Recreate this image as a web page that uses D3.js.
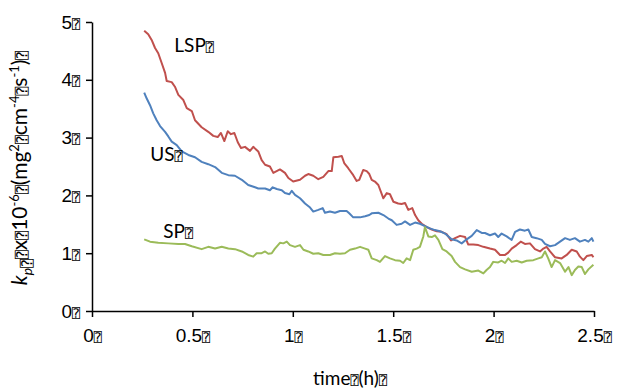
<!DOCTYPE html>
<html>
<head>
<meta charset="utf-8">
<script src="https://cdn.jsdelivr.net/npm/d3@7"></script>
<style>
  body { margin: 0; background: #fff; }
  svg { font-family: Lato, "Open Sans", sans-serif; }
  .axis path, .axis line { stroke: #000; stroke-width: 1.5; }
  .q { font-family: "DejaVu Sans Mono", "DejaVu Sans", monospace; font-size: 0.7em; }
</style>
</head>
<body>
<svg width="619" height="388"></svg>
<script>
var Q = "\u2370";

var lspT = [0.260,0.280,0.297,0.314,0.330,0.347,0.364,0.372,0.397,0.413,0.430,0.455,0.472,0.497,0.513,0.546,0.579,0.604,0.626,0.642,0.659,0.676,0.692,0.709,0.726,0.742,0.762,0.787,0.803,0.828,0.845,0.862,0.886,0.903,0.936,0.961,0.978,1.002,1.036,1.061,1.077,1.102,1.127,1.152,1.177,1.194,1.202,1.227,1.244,1.256,1.276,1.301,1.318,1.331,1.351,1.368,1.381,1.393,1.409,1.426,1.451,1.468,1.484,1.501,1.525,1.542,1.559,1.575,1.595,1.609,1.625,1.642,1.667,1.692,1.717,1.742,1.766,1.788,1.808,1.833,1.858,1.874,1.899,1.924,1.949,1.982,2.007,2.032,2.057,2.073,2.090,2.115,2.135,2.156,2.181,2.206,2.231,2.248,2.264,2.281,2.306,2.339,2.364,2.389,2.414,2.430,2.447,2.464,2.489,2.497];
var lspV = [4.85,4.79,4.69,4.55,4.46,4.29,4.12,3.98,3.96,3.88,3.74,3.65,3.51,3.46,3.30,3.18,3.10,3.03,3.01,3.08,2.94,3.11,3.06,3.08,2.92,2.82,2.84,2.77,2.84,2.76,2.61,2.53,2.50,2.39,2.45,2.39,2.30,2.24,2.27,2.34,2.37,2.34,2.28,2.32,2.42,2.42,2.66,2.67,2.68,2.56,2.47,2.35,2.25,2.27,2.44,2.42,2.37,2.27,2.24,2.18,1.95,2.04,2.02,1.89,1.86,1.85,1.87,1.75,1.78,1.66,1.57,1.51,1.45,1.41,1.38,1.37,1.33,1.22,1.26,1.30,1.28,1.15,1.15,1.14,1.11,1.08,1.06,0.97,0.97,1.01,1.08,1.14,1.20,1.16,1.17,1.07,1.03,1.08,1.11,1.03,0.93,0.91,0.97,1.06,1.03,0.94,0.88,0.95,0.97,0.93];

var usT = [0.260,0.272,0.289,0.305,0.322,0.339,0.364,0.380,0.397,0.422,0.447,0.480,0.513,0.546,0.579,0.613,0.646,0.679,0.712,0.746,0.778,0.812,0.828,0.862,0.886,0.900,0.920,0.945,0.961,0.983,0.995,1.011,1.036,1.061,1.086,1.102,1.127,1.149,1.160,1.185,1.210,1.235,1.268,1.281,1.301,1.335,1.360,1.381,1.393,1.426,1.451,1.476,1.493,1.517,1.542,1.559,1.584,1.609,1.633,1.658,1.683,1.708,1.733,1.758,1.791,1.816,1.841,1.866,1.891,1.916,1.941,1.957,1.982,2.007,2.023,2.040,2.065,2.090,2.107,2.131,2.156,2.173,2.190,2.214,2.240,2.256,2.281,2.306,2.331,2.356,2.380,2.405,2.430,2.455,2.472,2.489,2.497];
var usV = [3.78,3.68,3.56,3.42,3.30,3.20,3.10,3.02,2.93,2.87,2.76,2.70,2.66,2.58,2.54,2.49,2.39,2.35,2.34,2.27,2.18,2.14,2.12,2.12,2.09,2.14,2.11,2.09,2.04,2.02,2.08,2.01,1.95,1.86,1.79,1.72,1.75,1.78,1.70,1.72,1.70,1.73,1.73,1.69,1.62,1.62,1.64,1.66,1.69,1.70,1.66,1.60,1.57,1.49,1.51,1.55,1.49,1.53,1.51,1.47,1.43,1.40,1.38,1.34,1.24,1.22,1.17,1.24,1.30,1.40,1.35,1.35,1.31,1.34,1.28,1.34,1.29,1.23,1.37,1.41,1.39,1.41,1.28,1.26,1.23,1.16,1.12,1.14,1.20,1.26,1.23,1.26,1.20,1.23,1.20,1.26,1.20];

var spT = [0.260,0.289,0.330,0.380,0.430,0.463,0.497,0.546,0.579,0.613,0.646,0.679,0.712,0.746,0.778,0.803,0.820,0.845,0.862,0.878,0.895,0.911,0.936,0.953,0.970,0.986,1.011,1.036,1.053,1.077,1.102,1.127,1.152,1.185,1.210,1.235,1.260,1.285,1.310,1.335,1.360,1.376,1.393,1.418,1.434,1.459,1.484,1.509,1.534,1.550,1.567,1.584,1.600,1.617,1.633,1.650,1.658,1.675,1.692,1.708,1.725,1.745,1.766,1.791,1.808,1.833,1.858,1.891,1.924,1.949,1.965,1.982,1.998,2.023,2.040,2.057,2.073,2.090,2.115,2.140,2.165,2.198,2.223,2.240,2.256,2.272,2.289,2.306,2.331,2.356,2.373,2.389,2.405,2.422,2.439,2.455,2.472,2.497];
var spV = [1.24,1.20,1.18,1.17,1.16,1.16,1.12,1.07,1.11,1.08,1.11,1.08,1.07,1.03,0.97,0.94,1.00,1.00,1.03,0.99,1.00,1.08,1.18,1.17,1.20,1.14,1.11,1.14,1.06,1.03,0.99,1.00,0.97,0.97,1.00,0.99,1.00,1.06,1.08,1.11,1.08,1.06,0.91,0.88,0.85,0.95,0.91,0.88,0.87,0.83,0.91,0.88,1.06,1.08,1.11,1.29,1.45,1.29,1.28,1.31,1.23,1.07,1.03,0.95,0.85,0.76,0.72,0.68,0.70,0.65,0.71,0.76,0.85,0.84,0.87,0.83,0.91,0.85,0.87,0.84,0.87,0.88,0.91,0.93,1.03,0.91,0.76,0.88,0.83,0.68,0.76,0.62,0.71,0.77,0.76,0.64,0.72,0.80];

var xTicks = [0, 0.5, 1, 1.5, 2, 2.5];
var yTicks = [0, 1, 2, 3, 4, 5];

var series = [
  { name: "LSP", t: lspT, v: lspV, color: "#C0504D", lt: 0.41, lv: 4.48 },
  { name: "US",  t: usT,  v: usV,  color: "#4F81BD", lt: 0.29, lv: 2.6 },
  { name: "SP",  t: spT,  v: spV,  color: "#9BBB59", lt: 0.355, lv: 1.26 }
];

var svg = d3.select("svg"),
    margin = { left: 92, top: 22 },
    width = 502, height = 289,
    g = svg.append("g").attr("transform", "translate(" + margin.left + "," + margin.top + ")");

var x = d3.scaleLinear().domain([0, 2.5]).range([0, width]);
var y = d3.scaleLinear().domain([0, 5]).range([height, 0]);

// put the missing-glyph box after a label
function boxed(sel, str) {
  sel.text(null);
  sel.append("tspan").text(str);
  sel.append("tspan").attr("class", "q").text(Q);
}

var yAxis = g.append("g").attr("class", "axis")
    .call(d3.axisLeft(y).tickValues(yTicks).tickSize(6).tickSizeOuter(0).tickPadding(6));
yAxis.selectAll("text").style("font-size", "19px").attr("fill", "#000")
    .each(function(d) { boxed(d3.select(this), d); });

var xAxis = g.append("g").attr("class", "axis")
    .attr("transform", "translate(0," + height + ")")
    .call(d3.axisBottom(x).tickValues(xTicks).tickSize(6).tickSizeOuter(0).tickPadding(12));
xAxis.selectAll("text").style("font-size", "19px").attr("fill", "#000")
    .each(function(d) { boxed(d3.select(this), d); });

var line = d3.line()
    .x(function(d) { return x(d[0]); })
    .y(function(d) { return y(d[1]); });

series.forEach(function(s) {
  var pts = s.t.map(function(t, i) { return [t, s.v[i]]; });
  g.append("path")
      .datum(pts)
      .attr("fill", "none")
      .attr("stroke", s.color)
      .attr("stroke-width", 2)
      .attr("stroke-linejoin", "round")
      .attr("d", line);
});

series.forEach(function(s) {
  var t = g.append("text")
      .attr("x", x(s.lt))
      .attr("y", y(s.lv))
      .style("font-size", "19px");
  boxed(t, s.name);
});

// axis titles
var xt = svg.append("text")
    .attr("x", 350).attr("y", 385)
    .attr("text-anchor", "middle")
    .style("font-size", "19px");
xt.append("tspan").text("time");
xt.append("tspan").attr("class", "q").text(Q);
xt.append("tspan").text("(h)");
xt.append("tspan").attr("class", "q").text(Q);

var yt = svg.append("text")
    .attr("transform", "translate(27,168) rotate(-90)")
    .attr("text-anchor", "middle")
    .style("font-size", "21px");
yt.append("tspan").style("font-style", "italic").text("k");
yt.append("tspan").attr("dy", 5).style("font-size", "14px").style("font-style", "italic").text("p");
yt.append("tspan").attr("class", "q").text(Q);
yt.append("tspan").attr("dy", -5).attr("class", "q").text(Q);
yt.append("tspan").text("x");
yt.append("tspan").attr("class", "q").text(Q);
yt.append("tspan").text("10");
yt.append("tspan").attr("dy", -8).style("font-size", "13px").text("-6");
yt.append("tspan").attr("dy", 8).attr("class", "q").text(Q);
yt.append("tspan").text("(mg");
yt.append("tspan").attr("dy", -8).style("font-size", "13px").text("2");
yt.append("tspan").attr("dy", 8).attr("class", "q").text(Q);
yt.append("tspan").text("cm");
yt.append("tspan").attr("dy", -8).style("font-size", "13px").text("-4");
yt.append("tspan").attr("dy", 8).attr("class", "q").text(Q);
yt.append("tspan").text("s");
yt.append("tspan").attr("dy", -8).style("font-size", "13px").text("-1");
yt.append("tspan").attr("dy", 8).text(")");
yt.append("tspan").attr("class", "q").text(Q);
</script>
</body>
</html>
